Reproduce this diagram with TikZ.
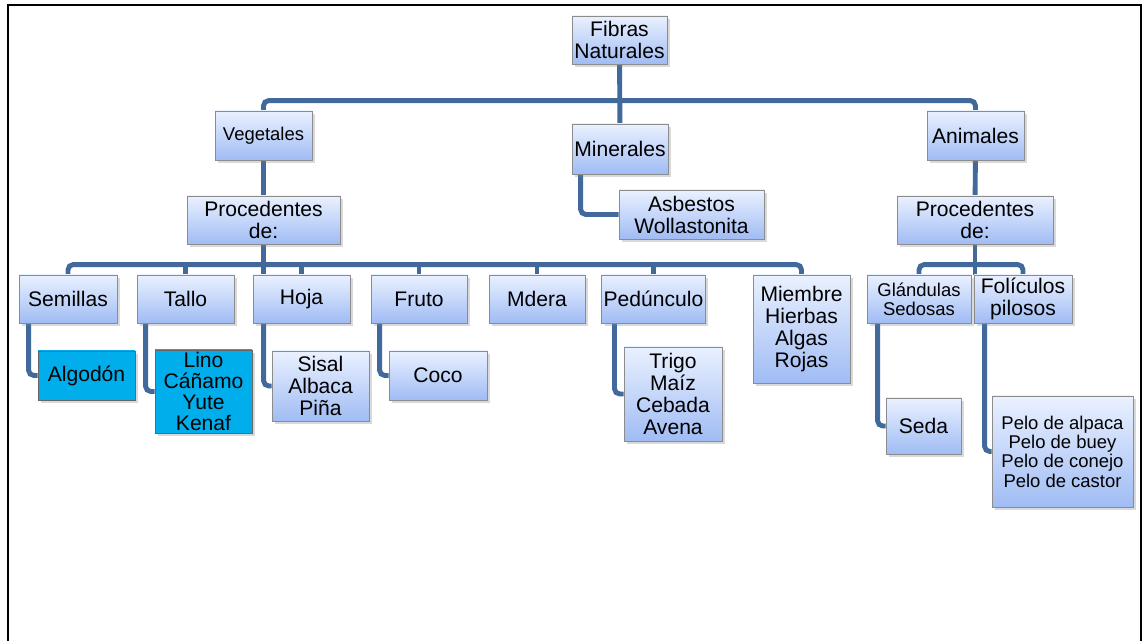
\documentclass[tikz,border=0pt]{standalone}
\usepackage{fontspec}
\setmainfont{Liberation Sans}
\usetikzlibrary{positioning}
\usetikzlibrary{backgrounds}
\usetikzlibrary{shadows}
\definecolor{linkblue}{RGB}{65,105,155}
\definecolor{boxtop}{RGB}{234,241,255}
\definecolor{boxbot}{RGB}{160,188,244}
\definecolor{boxcyan}{RGB}{0,174,236}
\tikzset{
x=0.02cm,y=-0.02cm, % pixel grid of the page
my box/.style={draw=black!45,line width=0.5pt,top color=boxtop,bottom color=boxbot,
  align=center,inner sep=1pt,font=\fontsize{12}{12.5}\selectfont,
  drop shadow={opacity=0.3,shadow xshift=1.5pt,shadow yshift=-1.5pt}},
cyan box/.style={my box,top color=boxcyan,bottom color=boxcyan,draw=black!60},
small/.style={font=\fontsize{10.5}{11}\selectfont},
sz/.style 2 args={minimum width=#1*0.02cm,minimum height=#2*0.02cm},
link/.style={draw=linkblue,line width=2.8pt,rounded corners=3pt},
}
\begin{document}
\begin{tikzpicture}
\useasboundingbox (0,0) rectangle (1143,641);
\draw[line width=1.1pt] (8,641) -- (8,5) -- (1141,5) -- (1141,641);

% top levels
\node[my box,sz={95}{48}] (fibras) at (619.5,40)    {Fibras\\Naturales};
\node[my box,small,sz={97}{49}] (veg) at (263.5,135.5) {Vegetales};
\node[my box,sz={96}{50}] (min)    at (620,149)     {Minerales};
\node[my box,sz={97}{49}] (ani)    at (975.5,135.5) {Animales};
\node[my box,sz={145}{49}] (asb)   at (691.5,214.5) {Asbestos\\Wollastonita};
\node[my box,sz={153}{48}] (procV) at (263.5,220)   {Procedentes\\de:};
\node[my box,sz={156}{48}] (procA) at (975,220)     {Procedentes\\de:};

% vegetales
\node[my box,sz={98}{48}] (sem) at (68,299)    {Semillas};
\node[my box,sz={97}{48}] (tal) at (185.5,299) {Tallo};
\node[my box,sz={97}{48}] (hoj) at (301.5,299) {Hoja};
\node[my box,sz={96}{48}] (fru) at (419,299)   {Fruto};
\node[my box,sz={96}{48}] (mde) at (537,299)   {Mdera};
\node[my box,sz={97}{48}] (ped) at (653.5,299) {Pedúnculo};
\node[my box,sz={97}{108}] (mie) at (801.5,329) {Miembre\\Hierbas\\Algas\\Rojas};
\node[cyan box,sz={97}{49}] (alg) at (86.5,375.5) {Algodón};
\node[cyan box,sz={97}{83},inner ysep=0pt,font=\fontsize{12}{12}\selectfont] (lin) at (203.5,391.5) {Lino\\Cáñamo\\Yute\\Kenaf};
\node[my box,sz={97}{70}] (sis) at (320.5,386)  {Sisal\\Albaca\\Piña};
\node[my box,sz={98}{49}] (coc) at (438,375.5)  {Coco};
\node[my box,sz={98}{94}] (tri) at (673,394)    {Trigo\\Maíz\\Cebada\\Avena};

% animales
\node[my box,small,sz={104}{48}] (gla) at (919,299)  {Glándulas\\Sedosas};
\node[my box,sz={98}{48}] (fol)       at (1023,299)  {Folículos\\pilosos};
\node[my box,sz={75}{56}] (sed)       at (923.5,426) {Seda};
\node[my box,small,sz={141}{111}] (pel) at (1062.5,451.5) {Pelo de alpaca\\Pelo de buey\\Pelo de conejo\\Pelo de castor};

\begin{scope}[on background layer]
\draw[link] (fibras) -- (min);
\draw[link] (veg.north) -- ++(0,-10) -| (ani.north);
\draw[link] (veg) -- (procV);
\draw[link] (ani) -- (procA);
\draw[link] ([xshift=0.18cm]min.south west) |- (asb.west);
\draw[link] (procV) -- (procV |- sem.north);
\draw[link] (sem.north) -- ++(0,-10) -| (mie.north);
\foreach \n in {tal,hoj,fru,mde,ped}
  \draw[link] (\n.north) -- ++(0,-10);
\draw[link] (procA) -- (procA |- gla.north);
\draw[link] (gla.north) -- ++(0,-10) -| (fol.north);
\draw[link] ([xshift=0.2cm]sem.south west) |- (alg.west);
\draw[link] ([xshift=0.18cm]tal.south west) |- (lin.west);
\draw[link] ([xshift=0.22cm]hoj.south west) |- (sis.west);
\draw[link] ([xshift=0.18cm]fru.south west) |- (coc.west);
\draw[link] ([xshift=0.26cm]ped.south west) |- (tri.west);
\draw[link] ([xshift=0.22cm]gla.south west) |- (sed.west);
\draw[link] ([xshift=0.22cm]fol.south west) |- (pel.west);
\end{scope}
\end{tikzpicture}
\end{document}
